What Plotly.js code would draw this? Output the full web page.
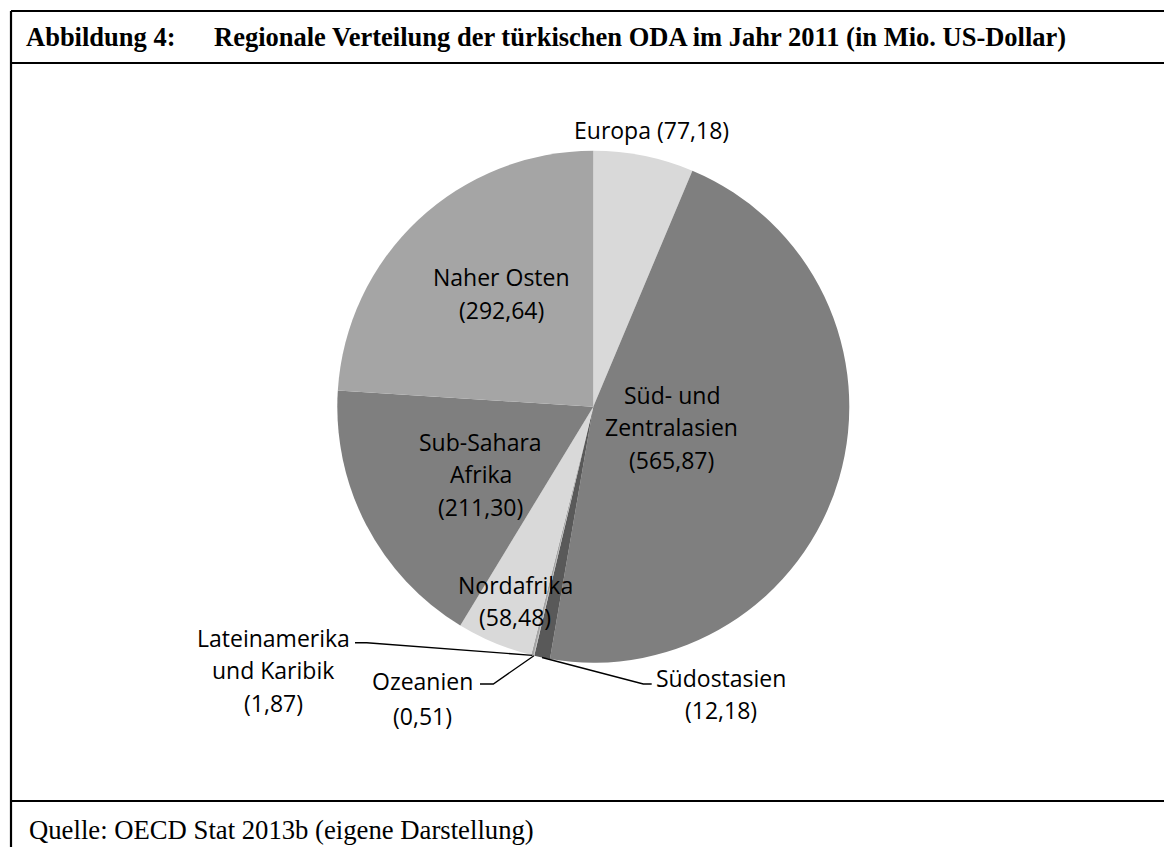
<!DOCTYPE html>
<html>
<head>
<meta charset="utf-8">
<script src="https://cdn.plot.ly/plotly-3.0.1.min.js"></script>
<style>html,body{margin:0;padding:0;background:#fff;}#chart{width:1164px;height:847px;}</style>
</head>
<body>
<div id="chart"></div>
<script>
// ---- data ----
const categories = ['Europa', 'Süd- und Zentralasien', 'Südostasien', 'Ozeanien',
  'Lateinamerika und Karibik', 'Nordafrika', 'Sub-Sahara Afrika', 'Naher Osten'];
const values = [77.18, 565.87, 12.18, 0.51, 1.87, 58.48, 211.30, 292.64];
const sliceColors = ['#d9d9d9', '#7f7f7f', '#595959', '#bfbfbf', '#a5a5a5', '#d9d9d9', '#7f7f7f', '#a5a5a5'];
const figureLabel = 'Abbildung 4:';
const figureTitle = 'Regionale Verteilung der türkischen ODA im Jahr 2011 (in Mio. US-Dollar)';
const sourceNote = 'Quelle: OECD Stat 2013b (eigene Darstellung)';

// ---- layout helpers (pixel -> paper) ----
const W = 1164, H = 847;
const px = x => x / W;
const py = y => 1 - y / H;
const CX = 593.3, CY = 406.7, R = 256;

const fmt = v => v.toFixed(2).replace('.', ',');

// label placement: name line splits + line centers (pixels)
const labelLayout = [
  {lines: i => [categories[i] + ' (' + fmt(values[i]) + ')'], x: 651.5, y: [130]},
  {lines: i => ['Süd- und', 'Zentralasien', '(' + fmt(values[i]) + ')'], x: 672, y: [395, 427, 460]},
  {lines: i => ['Südostasien', '(' + fmt(values[i]) + ')'], x: 721, y: [678, 710], leader: [[643.3, 684], [651.7, 684]]},
  {lines: i => ['Ozeanien', '(' + fmt(values[i]) + ')'], x: 422, y: [681, 716], leader: [[493.3, 684], [480, 684]]},
  {lines: i => ['Lateinamerika', 'und Karibik', '(' + fmt(values[i]) + ')'], x: 273, y: [638, 670, 703], leader: [[366.7, 642.7], [355, 642.7]]},
  {lines: i => ['Nordafrika', '(' + fmt(values[i]) + ')'], x: 515, y: [585, 617]},
  {lines: i => ['Sub-Sahara', 'Afrika', '(' + fmt(values[i]) + ')'], x: 481, y: [441.7, 473.5, 506.5]},
  {lines: i => ['Naher Osten', '(' + fmt(values[i]) + ')'], x: 501, y: [277, 310]}
];

const labelFont = {family: 'Open Sans, sans-serif', size: 23, color: '#000'};
const serif = 'Liberation Serif, Times New Roman, serif';

const annotations = [];
const shapes = [];
const total = values.reduce((a, b) => a + b, 0);
let cum = 0;
values.forEach((v, i) => {
  const mid = (cum + v / 2) / total * 2 * Math.PI;
  cum += v;
  const L = labelLayout[i];
  L.lines(i).forEach((t, k) => {
    annotations.push({text: t, x: px(L.x), y: py(L.y[k]), xref: 'paper', yref: 'paper',
      xanchor: 'center', yanchor: 'middle', showarrow: false, font: labelFont});
  });
  if (L.leader) {
    const rx = CX + R * Math.sin(mid), ry = CY - R * Math.cos(mid);
    const pts = [[rx, ry]].concat(L.leader);
    const path = pts.map((p, k) => (k ? 'L' : 'M') + px(p[0]).toFixed(5) + ',' + py(p[1]).toFixed(5)).join(' ');
    shapes.push({type: 'path', path: path, xref: 'paper', yref: 'paper', line: {color: '#000', width: 1.4}});
  }
});

// header / footer texts
annotations.push({text: figureLabel, x: px(24), y: py(37), xref: 'paper', yref: 'paper', xanchor: 'left', yanchor: 'middle',
  showarrow: false, font: {family: serif, size: 26.5, color: '#000', weight: 'bold'}});
annotations.push({text: figureTitle, x: px(212), y: py(37), xref: 'paper', yref: 'paper', xanchor: 'left', yanchor: 'middle',
  showarrow: false, font: {family: serif, size: 26.5, color: '#000', weight: 'bold'}});
annotations.push({text: sourceNote, x: px(27), y: py(830), xref: 'paper', yref: 'paper', xanchor: 'left', yanchor: 'middle',
  showarrow: false, font: {family: serif, size: 26.7, color: '#000'}});

// frame lines
const frame = {color: '#000', width: 2.2};
[[11, 11, 1164, 11], [11, 63, 1164, 63], [11, 801, 1164, 801], [11, 11, 11, 847]].forEach(s => {
  shapes.push({type: 'line', xref: 'paper', yref: 'paper', x0: px(s[0]), y0: py(s[1]), x1: px(s[2]), y1: py(s[3]), line: frame});
});

const trace = {
  type: 'pie',
  labels: categories,
  values: values,
  sort: false,
  direction: 'clockwise',
  rotation: 0,
  textinfo: 'none',
  hoverinfo: 'label+value',
  marker: {colors: sliceColors, line: {width: 0}},
  domain: {x: [px(CX - R), px(CX + R)], y: [py(CY + R), py(CY - R)]},
  showlegend: false
};

const layout = {
  width: W, height: H,
  margin: {l: 0, r: 0, t: 0, b: 0},
  paper_bgcolor: '#fff',
  showlegend: false,
  annotations: annotations,
  shapes: shapes
};

Plotly.newPlot('chart', [trace], layout, {displayModeBar: false, staticPlot: true});
</script>
</body>
</html>
